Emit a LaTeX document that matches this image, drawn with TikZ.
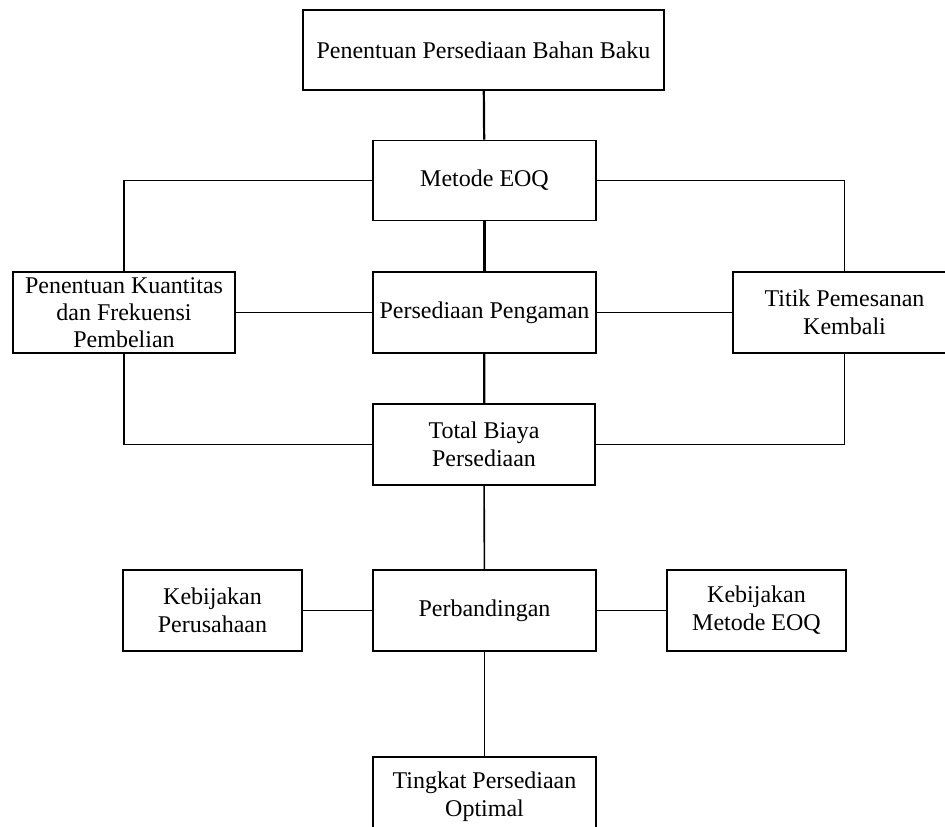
\documentclass[tikz,border=0pt]{standalone}
\usepackage{fontspec}
\setmainfont{Liberation Serif}
\begin{document}
\begin{tikzpicture}[x=1pt,y=-1pt,
  box/.style={draw,line width=1.6pt,inner sep=0pt,align=center,
    font=\fontsize{24}{28}\selectfont},
  conn/.style={line width=1.6pt},
  thick conn/.style={line width=2.2pt}]
\useasboundingbox (0,0) rectangle (945,827);
\clip (0,0) rectangle (945,827);
\node[box,minimum width=361pt,minimum height=80pt] (top) at (483.5,50) {Penentuan Persediaan Bahan Baku};
\node[box,minimum width=223pt,minimum height=80pt] (eoq) at (484.5,180.5) {Metode EOQ};
\node[box,minimum width=222pt,minimum height=81pt,font=\fontsize{24}{27}\selectfont] (kuan) at (124,312.5) {Penentuan Kuantitas\\dan Frekuensi\\Pembelian};
\node[box,minimum width=223pt,minimum height=81pt] (aman) at (484.5,312.5) {Persediaan Pengaman};
\node[box,minimum width=223pt,minimum height=81pt] (titik) at (844.5,312.5) {Titik Pemesanan\\Kembali};
\node[box,minimum width=222pt,minimum height=81pt] (total) at (484,444.5) {Total Biaya\\Persediaan};
\node[box,minimum width=179pt,minimum height=81pt] (kp) at (212.5,610.5) {Kebijakan\\Perusahaan};
\node[box,minimum width=223pt,minimum height=81pt] (banding) at (484.5,610.5) {Perbandingan};
\node[box,minimum width=179pt,minimum height=81pt] (keoq) at (756.5,610.5) {Kebijakan\\Metode EOQ};
\node[box,minimum width=223pt,minimum height=80pt] (tingkat) at (484.5,797) {Tingkat Persediaan\\Optimal};
\draw[thick conn] (top) -- (eoq);
\draw[conn] (eoq.west) -| (kuan.north);
\draw[conn] (eoq.east) -| (titik.north);
\draw[thick conn] (eoq) -- (aman);
\draw[conn] (kuan) -- (aman);
\draw[conn] (aman) -- (titik);
\draw[thick conn] (aman) -- (total);
\draw[conn] (kuan.south) |- (total.west);
\draw[conn] (titik.south) |- (total.east);
\draw[conn] (total) -- (banding);
\draw[conn] (kp) -- (banding);
\draw[conn] (banding) -- (keoq);
\draw[conn] (banding) -- (tingkat);
\end{tikzpicture}
\end{document}
